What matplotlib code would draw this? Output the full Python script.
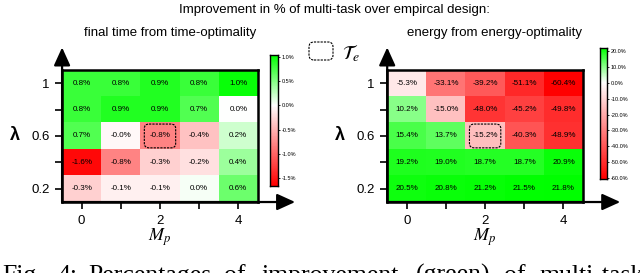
import numpy as np
import matplotlib
matplotlib.use('Agg')
import matplotlib.pyplot as plt
from matplotlib.colors import LinearSegmentedColormap, TwoSlopeNorm
from matplotlib.patches import FancyBboxPatch

plt.rcParams['font.family'] = ['Liberation Sans', 'DejaVu Sans']
plt.rcParams['mathtext.fontset'] = 'stix'

#-----------------------------------------------------------------------------
# Dados (linhas: lambda = 1, 0.8, 0.6, 0.4, 0.2 ; colunas: Mp = 0..4)

mp = [0, 1, 2, 3, 4]
lambdas = [1, 0.8, 0.6, 0.4, 0.2]
mp_labels = ['0', '', '2', '', '4']
lambda_labels = ['1', '', '0.6', '', '0.2']

tempo = [[0.8, 0.8, 0.9, 0.8, 1.0],
         [0.8, 0.9, 0.9, 0.7, 0.0],
         [0.7, -0.04, -0.8, -0.4, 0.2],
         [-1.6, -0.8, -0.3, -0.2, 0.4],
         [-0.3, -0.1, -0.1, 0.04, 0.6]]

energia = [[-5.3, -33.1, -39.2, -51.1, -60.4],
           [10.2, -15.0, -48.0, -45.2, -49.8],
           [15.4, 13.7, -15.2, -40.3, -48.9],
           [19.2, 19.0, 18.7, 18.7, 20.9],
           [20.5, 20.8, 21.2, 21.5, 21.8]]

tempo_lim = (-1.66, 1.04)
energia_lim = (-60.6, 21.8)
tempo_ticks = [1.0, 0.5, 0.0, -0.5, -1.0, -1.5]
energia_ticks = [20, 10, 0, -10, -20, -30, -40, -50, -60]

# celula destacada (T_e): linha, coluna
destaque = (2, 2)

titulo = 'Improvement in % of multi-task over empircal design:'
sub1 = 'final time from time-optimality'
sub2 = 'energy from energy-optimality'
# legenda da figura, palavra por palavra (texto justificado)
legenda = ['Fig.', '4:', 'Percentages', 'of', 'improvement', '(green)', 'of', 'multi-task']
legenda_x = [2, 57, 88, 224, 262, 416, 504, 540]

cmap = LinearSegmentedColormap.from_list('rwg', ['#ff0000', '#ffffff', '#00ff00'])

#-----------------------------------------------------------------------------
# Figura

fig = plt.figure(figsize=(6.4, 2.73), dpi=100)


def heatmap(rect, crect, dados, lim, ticks, subtitulo):
    dados = np.array(dados)
    norm = TwoSlopeNorm(vmin=lim[0], vcenter=0, vmax=lim[1])
    ax = fig.add_axes(rect)
    ax.imshow(dados, cmap=cmap, norm=norm, aspect='auto')
    for i in range(dados.shape[0]):
        for j in range(dados.shape[1]):
            ax.text(j, i, '{:.1f}%'.format(dados[i, j]), ha='center', va='center',
                    fontsize=5.8, color='black')
    ax.set_xticks(range(len(mp)))
    ax.set_xticklabels(mp_labels)
    ax.set_yticks(range(len(lambdas)))
    ax.set_yticklabels(lambda_labels)
    ax.tick_params(direction='out', length=5, width=1.2, labelsize=9.5, pad=4)
    for s in ax.spines.values():
        s.set_linewidth(1.8)
    ax.set_xlabel(r'$M_p$', fontsize=13, labelpad=0)
    ax.set_ylabel('λ', fontsize=13, fontweight='bold', rotation=0, labelpad=12, va='center')

    # setas dos eixos
    estilo = dict(arrowstyle='-|>,head_length=0.55,head_width=0.25', lw=1.6, color='k',
                  mutation_scale=20, shrinkA=0, shrinkB=0)
    ax.annotate('', xy=(0, 1.17), xytext=(0, 0), xycoords='axes fraction',
                arrowprops=estilo, annotation_clip=False)
    ax.annotate('', xy=(1.19, 0), xytext=(0, 0), xycoords='axes fraction',
                arrowprops=estilo, annotation_clip=False)

    # caixa tracejada na celula destacada
    r, c = destaque
    caixa = FancyBboxPatch((c - 0.4, r - 0.45), 0.8, 0.9,
                           boxstyle='round,pad=0,rounding_size=0.12',
                           mutation_aspect=1.4, fill=False, ec='black', lw=0.8,
                           ls=(0, (2, 1)))
    ax.add_patch(caixa)

    ax.text(0.55, 1.28, subtitulo, transform=ax.transAxes, ha='center', va='center',
            fontsize=9.5)

    # barra de cores
    cax = fig.add_axes(crect)
    v = np.linspace(lim[0], lim[1], 300)
    cax.pcolormesh([0, 1], v, v[:-1, None], cmap=cmap, norm=norm, shading='flat')
    cax.set_ylim(lim)
    cax.set_xlim(0, 1)
    cax.set_xticks([])
    cax.yaxis.tick_right()
    cax.set_yticks(ticks)
    cax.set_yticklabels(['{:.1f}%'.format(t) for t in ticks])
    cax.tick_params(axis='y', direction='out', length=1.5, width=0.6, labelsize=4, pad=1)
    for s in cax.spines.values():
        s.set_linewidth(1.0)
    return ax


heatmap([0.097, 0.260, 0.306, 0.484], [0.422, 0.319, 0.0125, 0.480],
        tempo, tempo_lim, tempo_ticks, sub1)
heatmap([0.605, 0.260, 0.306, 0.484], [0.9375, 0.344, 0.011, 0.480],
        energia, energia_lim, energia_ticks, sub2)

fig.text(0.522, 0.963, titulo, ha='center', va='center', fontsize=9.5)

# legenda T_e
leg = FancyBboxPatch((3.09, 2.13), 0.24, 0.18, boxstyle='round,pad=0,rounding_size=0.05',
                     transform=fig.dpi_scale_trans, fill=False, ec='black', lw=0.8,
                     ls=(0, (2, 1)))
fig.patches.append(leg)
fig.text(0.535, 0.805, r'$\mathcal{T}_e$', ha='left', va='center', fontsize=14)

# legenda da figura (cortada na borda inferior)
for palavra, x in zip(legenda, legenda_x):
    fig.text(x / 640, -0.033, palavra, ha='left', va='baseline', fontsize=18.5,
             family='Liberation Serif')

fig.savefig('out.png', dpi=100)
